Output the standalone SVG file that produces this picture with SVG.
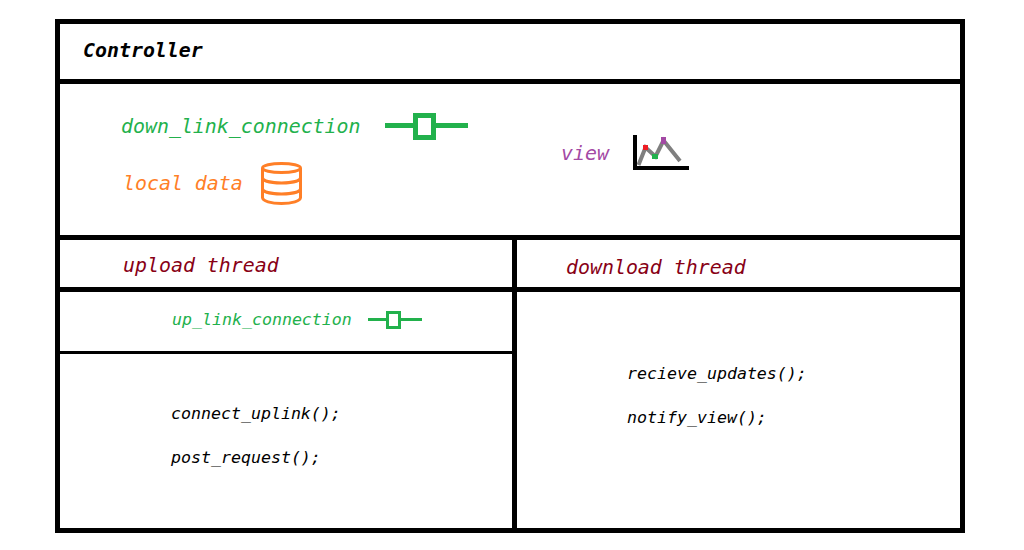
<svg xmlns="http://www.w3.org/2000/svg" width="1024" height="550" viewBox="0 0 1024 550">
<style>
text{font-family:"DejaVu Sans Mono","Liberation Mono",monospace;font-style:italic;white-space:pre}
.l{font-size:19.9px}
.s{font-size:16.6px}
.g{fill:#22b14c}
.o{fill:#ff7f27}
.p{fill:#a349a4}
.r{fill:#880015}
.k{fill:#000}
.frame{fill:none;stroke:#000;shape-rendering:crispEdges}
.link{fill:none;stroke:#22b14c;shape-rendering:crispEdges}
.db{fill:none;stroke:#ff7f27;stroke-width:3}
</style>
<rect width="1024" height="550" fill="#fff"/>
<g id="frame" class="frame">
<rect x="57.5" y="21.5" width="905" height="509" stroke-width="5"/>
<path d="M60 81.5H960M60 237.5H960M60 289.500H960M514.500 240V529" stroke-width="5"/>
<path d="M60 352.500H512" stroke-width="3"/>
</g>
<g id="controller"><text class="l k" x="83" y="57" font-weight="bold">Controller</text></g>
<g id="down-link">
<text class="l g" x="121" y="133">down_link_connection</text>
<path class="link" d="M385 125.500H413M436 125.500H468" stroke-width="5"/>
<rect class="link" x="415.500" y="115.500" width="18" height="22" stroke-width="5"/>
</g>
<g id="local-data">
<text class="l o" x="123" y="190">local data</text>
<g class="db">
<ellipse cx="281.500" cy="168" rx="19" ry="4.500"/>
<path d="M262.500 168V197.500C262.500 201 271 203.500 281.500 203.500S300.500 201 300.500 197.500V168"/>
<path d="M262.500 177.500C262.500 181 271 183 281.500 183S300.500 181 300.500 177.500"/>
<path d="M262.500 188.500C262.500 192 271 194 281.500 194S300.500 192 300.500 188.500"/>
</g>
</g>
<g id="view">
<text class="l p" x="561" y="160">view</text>
<path d="M635 135V168H689" fill="none" stroke="#000" stroke-width="4" shape-rendering="crispEdges"/>
<path d="M638.500 165L645.500 147.500L655.500 156.500L663.500 140.500L680 161" fill="none" stroke="#7f7f7f" stroke-width="4"/>
<rect x="643" y="145" width="5" height="5" fill="#ed1c24"/>
<rect x="652" y="154" width="6" height="5" fill="#22b14c"/>
<rect x="661" y="137" width="5" height="7" fill="#a349a4"/>
</g>
<g id="upload-thread">
<text class="l r" x="123" y="272">upload thread</text>
</g>
<g id="up-link">
<text class="s g" x="172" y="325">up_link_connection</text>
<path class="link" d="M368 319.500H386M401 319.500H422" stroke-width="3"/>
<rect class="link" x="387.500" y="312.500" width="12" height="15" stroke-width="3"/>
</g>
<g id="upload-calls">
<text class="s k" x="171" y="419">connect_uplink();</text>
<text class="s k" x="171" y="463">post_request();</text>
</g>
<g id="download-thread">
<text class="l r" x="566" y="274">download thread</text>
</g>
<g id="download-calls">
<text class="s k" x="627" y="379">recieve_updates();</text>
<text class="s k" x="627" y="423">notify_view();</text>
</g>
<g id="connectors"/>
</svg>
